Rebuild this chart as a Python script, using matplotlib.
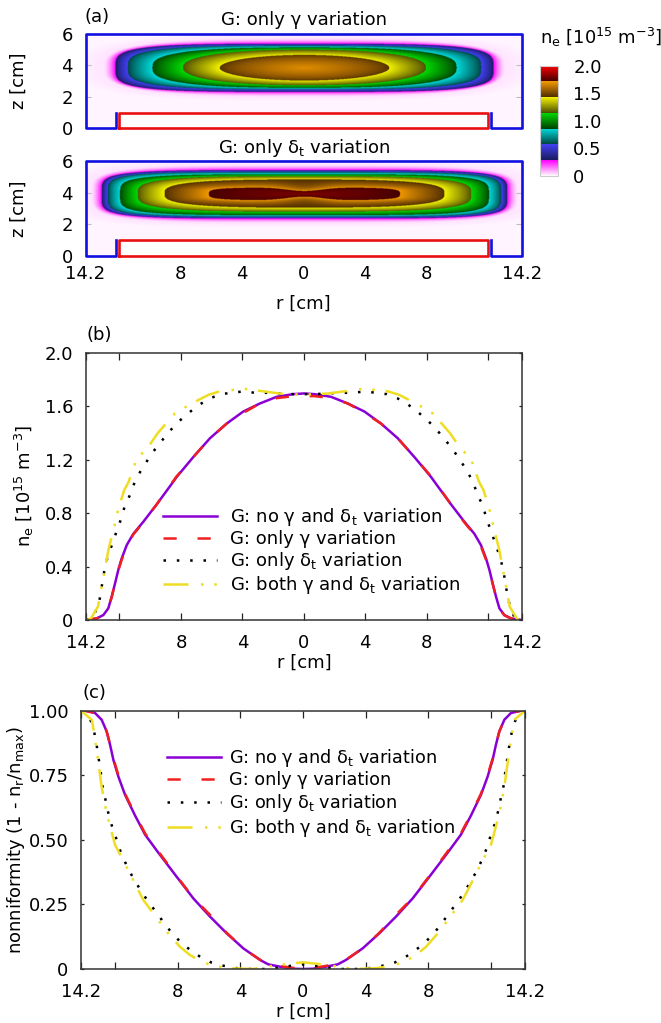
import matplotlib
matplotlib.use('Agg')
import matplotlib.pyplot as plt
from matplotlib.colors import LinearSegmentedColormap
import numpy as np

W, H = 661, 1023
plt.rcParams['mathtext.default'] = 'regular'
plt.rcParams['lines.scale_dashes'] = False
plt.rcParams['font.family'] = 'DejaVu Sans'

# radial density profiles, half plane (r in cm, n in 1e15 m-3)
r_gamma = [0, 0.69, 1.77, 2.86, 3.94, 5.02, 6.11, 7.19, 8.28, 8.72, 9.58, 10.45, 11.1, 11.53, 11.86, 12.08, 12.29, 12.51, 12.73, 13.05, 13.48, 14.2]
ne_none = [1.695, 1.69, 1.67, 1.62, 1.56, 1.47, 1.36, 1.22, 1.07, 1.0, 0.865, 0.735, 0.645, 0.56, 0.46, 0.374, 0.274, 0.174, 0.087, 0.037, 0.012, 0]
ne_gamma = [1.675, 1.675, 1.66, 1.62, 1.55, 1.47, 1.36, 1.22, 1.075, 1.005, 0.865, 0.73, 0.64, 0.55, 0.45, 0.37, 0.27, 0.17, 0.085, 0.035, 0.012, 0]
r_delta = [0, 0.69, 1.55, 2.36, 3.17, 3.97, 4.7, 5.4, 6.07, 6.75, 7.38, 8.0, 8.6, 9.15, 9.67, 10.15, 10.6, 11.0, 11.3, 11.65, 11.9, 12.2, 12.5, 12.8, 13.0, 13.3, 13.7, 14.2]
ne_delta = [1.69, 1.69, 1.695, 1.70, 1.70, 1.71, 1.70, 1.69, 1.66, 1.615, 1.56, 1.50, 1.43, 1.355, 1.28, 1.20, 1.12, 1.035, 0.94, 0.855, 0.755, 0.66, 0.56, 0.46, 0.36, 0.15, 0.02, 0]
r_both = [0, 1.6, 2.9, 3.9, 4.7, 5.5, 6.2, 7.3, 8.4, 9.5, 10.1, 10.9, 11.4, 11.7, 12.1, 12.4, 12.7, 13.05, 13.4, 13.9, 14.2]
ne_both = [1.685, 1.695, 1.715, 1.73, 1.72, 1.71, 1.685, 1.62, 1.545, 1.40, 1.30, 1.20, 1.035, 0.97, 0.82, 0.67, 0.535, 0.32, 0.10, 0.005, 0]

# nonuniformity profiles
rc_none = [0, 0.62, 1.47, 2.22, 2.75, 3.82, 4.88, 5.95, 7.01, 8.08, 9.25, 10.1, 10.75, 11.38, 11.81, 12.13, 12.34, 12.56, 12.88, 13.3, 13.94, 14.2]
nu_none = [0, 0.001, 0.009, 0.018, 0.035, 0.08, 0.138, 0.203, 0.273, 0.357, 0.45, 0.52, 0.595, 0.674, 0.745, 0.81, 0.868, 0.92, 0.965, 0.991, 1.0, 1.0]
nu_gamma = [0.005, 0.004, 0.012, 0.022, 0.036, 0.08, 0.14, 0.21, 0.275, 0.36, 0.455, 0.525, 0.6, 0.678, 0.75, 0.815, 0.87, 0.92, 0.965, 0.991, 1.0, 1.0]
rc_delta = [0, 0.72, 1.47, 2.5, 3.8, 4.56, 5.2, 5.86, 6.5, 7.12, 7.72, 8.27, 8.78, 9.25, 9.74, 10.21, 10.64, 11.07, 11.43, 11.75, 12.0, 12.28, 12.49, 12.66, 12.84, 12.94, 13.07, 13.2, 13.35, 13.62, 14.2]
nu_delta = [0.018, 0.013, 0.005, 0.0, 0.0, 0.006, 0.014, 0.025, 0.044, 0.07, 0.097, 0.132, 0.168, 0.209, 0.248, 0.288, 0.33, 0.375, 0.42, 0.467, 0.516, 0.564, 0.613, 0.663, 0.712, 0.764, 0.815, 0.867, 0.916, 0.97, 1.0]
rc_both = [0, 1.04, 2.32, 3.2, 4.67, 5.73, 6.48, 7.23, 7.87, 8.72, 9.57, 10.21, 10.75, 11.49, 12.02, 12.56, 12.88, 13.2, 13.5, 14.2]
nu_both = [0.026, 0.019, 0.009, 0.0, 0.003, 0.013, 0.028, 0.054, 0.086, 0.145, 0.215, 0.267, 0.33, 0.42, 0.48, 0.603, 0.706, 0.848, 0.964, 1.0]

# panel (a): density contours
levels_top = [0.03, 0.286, 0.571, 0.857, 1.143, 1.43]
half_r_top = [13.1, 12.3, 11.5, 9.9, 7.9, 5.5]
z_hi_top = [5.7, 5.33, 5.22, 5.1, 4.96, 4.62]
z_lo_top = [1.95, 2.28, 2.43, 2.54, 2.7, 3.0]
power_top = [3, 4, 3.5, 2.8, 2.3, 2.0]
waist_top = [0, 0, 0, 0, 0, 0]
peak_top = 1.68

levels_low = [0.03, 0.286, 0.571, 0.857, 1.143, 1.43, 1.714]
half_r_low = [13.9, 13.2, 12.8, 12.0, 10.85, 9.1, 6.2]
z_hi_low = [5.8, 5.43, 5.32, 5.17, 5.05, 4.84, 4.33]
z_lo_low = [2.05, 2.37, 2.47, 2.58, 2.8, 3.06, 3.53]
power_low = [4, 5, 5, 4.5, 3.5, 3, 4]
waist_low = [0, 0, 0, 0, 0, 0, 0.55]
peak_low = 1.8

# device outline
wall_r = [-12.2, -12.2, -14.2, -14.2, 14.2, 14.2, 12.2, 12.2]
wall_z = [1, 0, 0, 6, 6, 0, 0, 1]
plate_r = [-12, 12, 12, -12, -12]
plate_z = [0, 0, 1, 1, 0]

x_ticks = [-14.2, -12, -8, -4, 0, 4, 8, 12, 14.2]
x_labels = ['14.2', '', '8', '4', '0', '4', '8', '', '14.2']

bands = [((1, 1, 1), (1, 0, 1)), ((0.1, 0.1, 0.35), (0.25, 0.25, 0.95)),
         ((0, 0.25, 0.25), (0, 0.85, 0.85)), ((0, 0.25, 0), (0, 0.85, 0)),
         ((0.3, 0.3, 0), (0.95, 0.95, 0)), ((0.3, 0.17, 0), (0.95, 0.6, 0)),
         ((0.25, 0, 0), (1, 0, 0))]
stops = []
for i, (lo, hi) in enumerate(bands):
    stops += [(i / 7, lo), ((i + 1) / 7, hi)]
cmap = LinearSegmentedColormap.from_list('ne', stops, N=1024)

fs = 13
ink = '#222222'


def px_axes(l, t, r, b):
    return fig.add_axes([l / W, 1 - b / H, (r - l) / W, (b - t) / H])


def field_from_contours(rr, zz, levels, half_r, z_hi, z_lo, power, waist, peak):
    # nested superellipses, value ramps between neighbouring contours
    R, Z = np.meshgrid(np.abs(rr), zz)
    dist = []
    for a, hi, lo, p, w in zip(half_r, z_hi, z_lo, power, waist):
        b = (hi - lo) / 2 * (1 - w * np.exp(-(R / 1.6) ** 2))
        dist.append(((R / a) ** p + (np.abs(Z - (hi + lo) / 2) / b) ** p) ** (1 / p))
    n = levels[0] * np.clip(1 - (dist[0] - 1) * 4, 0, 1)
    for i in range(len(levels) - 1):
        d0, d1 = dist[i], dist[i + 1]
        t = np.clip((1 - d0) / np.maximum(d1 - d0, 1e-6), 0, 1)
        t = t ** (1.6 if i == 0 else 0.75)
        n = np.where((d0 <= 1) & (d1 > 1), levels[i] + t * (levels[i + 1] - levels[i]), n)
    inner = dist[-1] <= 1
    n = np.where(inner, levels[-1] + (peak - levels[-1]) * np.clip(1 - dist[-1], 0, 1) ** 0.6, n)
    return np.maximum(n, 0.012)


def density_map(ax, levels, half_r, z_hi, z_lo, power, waist, peak):
    rr = np.linspace(-14.2, 14.2, 800)
    zz = np.linspace(0, 6, 300)
    im = ax.imshow(field_from_contours(rr, zz, levels, half_r, z_hi, z_lo, power, waist, peak), origin='lower',
                   extent=[-14.2, 14.2, 0, 6], aspect='auto', cmap=cmap, vmin=0, vmax=2, interpolation='bilinear')
    ax.fill(plate_r, plate_z, color='white', zorder=2)
    ax.plot(wall_r, wall_z, color='#1010e0', lw=1.9, zorder=3, clip_on=False)
    ax.plot(plate_r, plate_z, color='#e81010', lw=1.9, zorder=4, clip_on=False)
    for s in ax.spines.values():
        s.set_visible(False)
    ax.set_xlim(-14.2, 14.2)
    ax.set_ylim(0, 6)
    ax.set_yticks([0, 2, 4, 6])
    ax.set_xticks(x_ticks)
    ax.tick_params(direction='in', length=4, width=0.8, color='#bbbbbb', labelsize=fs, right=True)
    ax.tick_params(axis='y', pad=9)
    ax.tick_params(axis='x', pad=7)
    ax.set_ylabel('z [cm]', fontsize=fs, labelpad=24)
    return im


def finish(ax):
    ax.set_xlim(-14.2, 14.2)
    ax.set_xticks(x_ticks)
    ax.set_xticklabels(x_labels)
    ax.tick_params(direction='in', length=5, width=0.9, color=ink, labelsize=fs, top=True, right=True)
    ax.tick_params(axis='x', pad=10)
    ax.tick_params(axis='y', pad=9, length=2)
    ax.set_xlabel('r [cm]', fontsize=fs, labelpad=1)
    for s in ax.spines.values():
        s.set_linewidth(1.1)
        s.set_color('#333333')


def mirror(r_pts, v_pts):
    r_pts = np.array(r_pts)
    v_pts = np.array(v_pts)
    return np.r_[-r_pts[::-1], r_pts[1:]], np.r_[v_pts[::-1], v_pts[1:]]


def curves(ax, sets):
    styles = [dict(color='#8a00d4', ls='-'),
              dict(color='#f02020', ls=(0, (9.5, 15))),
              dict(color='black', ls=(0, (1.8, 7.8))),
              dict(color='#eedd22', ls=(0, (18, 9, 1.8, 7.8, 1.8, 7.8)))]
    names = ['G: no γ and δ$_t$ variation', 'G: only γ variation', 'G: only δ$_t$ variation',
             'G: both γ and δ$_t$ variation']
    for (r_pts, v_pts), st, name in zip(sets, styles, names):
        x, y = mirror(r_pts, v_pts)
        ax.plot(x, y, lw=1.8, label=name, **st)


fig = plt.figure(figsize=(W / 100, H / 100), dpi=100)

ax1 = px_axes(85.5, 33.7, 522, 128.3)
im = density_map(ax1, levels_top, half_r_top, z_hi_top, z_lo_top, power_top, waist_top, peak_top)
ax1.set_xticklabels([])
ax1.set_title('G: only γ variation', fontsize=fs, pad=6)

ax2 = px_axes(85.5, 161, 522, 255.7)
density_map(ax2, levels_low, half_r_low, z_hi_low, z_lo_low, power_low, waist_low, peak_low)
ax2.set_xticklabels(x_labels)
ax2.set_title('G: only δ$_t$ variation', fontsize=fs, pad=6)
ax2.set_xlabel('r [cm]', fontsize=fs, labelpad=8)

cax = px_axes(540, 65.6, 558, 176)
cb = fig.colorbar(im, cax=cax, ticks=[0, 0.5, 1, 1.5, 2])
cb.ax.set_yticklabels(['0', '0.5', '1.0', '1.5', '2.0'], fontsize=fs)
cb.ax.tick_params(length=0, pad=11)
cb.outline.set_edgecolor('#cccccc')
fig.text(540 / W, 1 - 37 / H, 'n$_e$ [10$^{15}$ m$^{-3}$]', fontsize=fs, va='center', ha='left')

ax3 = px_axes(85.7, 352.7, 522, 620)
curves(ax3, [(r_gamma, ne_none), (r_gamma, ne_gamma), (r_delta, ne_delta), (r_both, ne_both)])
finish(ax3)
ax3.set_ylim(0, 2)
ax3.set_yticks([0, 0.4, 0.8, 1.2, 1.6, 2.0])
ax3.set_yticklabels(['0', '0.4', '0.8', '1.2', '1.6', '2.0'])
ax3.set_ylabel('n$_e$ [10$^{15}$ m$^{-3}$]', fontsize=fs, labelpad=6)
ax3.legend(loc='upper left', bbox_to_anchor=(77 / 436, 1 - 153 / 267), frameon=False, fontsize=fs,
           handlelength=39 / fs, handletextpad=0.7, labelspacing=0.12, borderpad=0, borderaxespad=0)

ax4 = px_axes(81, 710.7, 525, 969)
curves(ax4, [(rc_none, nu_none), (rc_none, nu_gamma), (rc_delta, nu_delta), (rc_both, nu_both)])
finish(ax4)
ax4.set_ylim(0, 1)
ax4.set_yticks([0, 0.25, 0.5, 0.75, 1])
ax4.set_yticklabels(['0', '0.25', '0.50', '0.75', '1.00'])
ax4.set_ylabel('nonniformity (1 - n$_r$/n$_{max}$)', fontsize=fs, labelpad=1)
ax4.legend(loc='upper left', bbox_to_anchor=(86 / 444, 1 - 36 / 258), frameon=False, fontsize=12.7,
           handlelength=39 / 12.7, handletextpad=0.45, labelspacing=0.15, borderpad=0, borderaxespad=0)

fig.text(85 / W, 1 - 17 / H, '(a)', fontsize=fs, va='center')
fig.text(87 / W, 1 - 335 / H, '(b)', fontsize=fs, va='center')
fig.text(83 / W, 1 - 693 / H, '(c)', fontsize=fs, va='center')

fig.savefig('out.png', dpi=100)
